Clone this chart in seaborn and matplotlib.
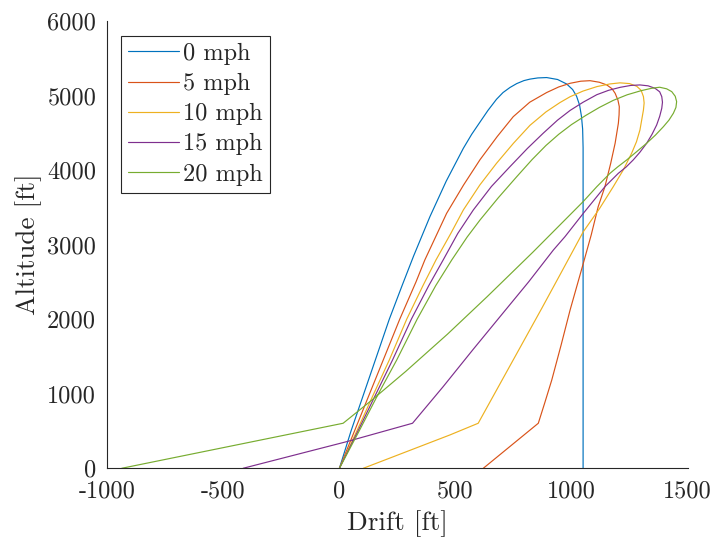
import matplotlib
matplotlib.use("Agg")
import matplotlib.pyplot as plt
import numpy as np
import pandas as pd
import seaborn as sns

# Wind cases
wind_labels = ["0 mph", "5 mph", "10 mph", "15 mph", "20 mph"]

# Flight paths (drift [ft], altitude [ft]) in flight order: ascent, drogue, main
drift_0 = [0, 50, 105, 160, 215, 270, 320, 390, 460, 534, 570, 606, 640, 677, 705, 735,
           764, 795, 821, 855, 893, 940, 979, 1005, 1022, 1035, 1043, 1048, 1050, 1050]
alt_0 = [0, 500, 1000, 1500, 2000, 2450, 2850, 3375, 3850, 4292, 4480, 4645, 4800, 4950,
         5040, 5108, 5160, 5200, 5220, 5236, 5241, 5215, 5155, 5080, 4990, 4870, 4720,
         4550, 4300, 0]

drift_5 = [0, 65, 130, 195, 260, 330, 368, 462, 535, 606, 680, 749, 820, 893, 945, 994,
           1040, 1080, 1120, 1152, 1175, 1188, 1200, 1206, 1205, 1202, 1188, 1169, 1144,
           1115, 1085, 1051, 994, 955, 915, 885, 857, 620]
alt_5 = [0, 500, 1000, 1500, 2000, 2500, 2794, 3420, 3800, 4140, 4450, 4716, 4910, 5040,
         5115, 5164, 5192, 5199, 5178, 5142, 5090, 5030, 4940, 4851, 4740, 4628, 4360,
         4091, 3777, 3509, 3130, 2750, 2123, 1650, 1184, 880, 604, 0]

drift_10 = [0, 75, 148, 215, 290, 360, 416, 480, 534, 605, 677, 750, 821, 890, 950, 994,
            1050, 1110, 1165, 1209, 1250, 1281, 1300, 1310, 1313, 1310, 1295, 1280, 1259,
            1223, 1180, 1120, 1051, 960, 872, 598, 476, 103]
alt_10 = [0, 500, 1000, 1453, 2000, 2450, 2794, 3150, 3465, 3800, 4091, 4360, 4600, 4780,
          4905, 4984, 5060, 5120, 5155, 5170, 5160, 5124, 5070, 4985, 4900, 4806, 4538,
          4380, 4225, 4001, 3777, 3480, 3174, 2650, 2146, 604, 447, 0]

drift_15 = [0, 80, 158, 229, 310, 385, 447, 510, 577, 655, 735, 810, 878, 940, 994, 1050,
            1109, 1160, 1210, 1255, 1295, 1330, 1360, 1380, 1389, 1392, 1389, 1380, 1367,
            1347, 1324, 1295, 1266, 1235, 1202, 1144, 1051, 972, 922, 816, 704, 575, 447,
            315, 31, -415]
alt_15 = [0, 500, 1000, 1453, 2000, 2450, 2794, 3150, 3465, 3780, 4046, 4290, 4494, 4670,
          4800, 4910, 5011, 5070, 5110, 5135, 5142, 5130, 5097, 5050, 4985, 4910, 4829,
          4720, 4605, 4480, 4360, 4240, 4136, 4040, 3957, 3777, 3420, 3107, 2928, 2503,
          2079, 1590, 1095, 604, 357, 0]

drift_20 = [0, 85, 168, 247, 335, 415, 484, 550, 606, 685, 764, 830, 890, 945, 1000, 1060,
            1120, 1180, 1240, 1300, 1345, 1380, 1410, 1432, 1447, 1453, 1450, 1439, 1420,
            1396, 1362, 1324, 1282, 1238, 1200, 1166, 1109, 1050, 834, 636, 466, 286, 134,
            16, -938]
alt_20 = [0, 500, 1000, 1453, 2000, 2450, 2794, 3100, 3331, 3630, 3911, 4140, 4330, 4480,
          4610, 4730, 4840, 4935, 5010, 5065, 5097, 5111, 5090, 5052, 4990, 4918, 4840,
          4762, 4670, 4582, 4470, 4360, 4250, 4136, 4045, 3957, 3777, 3576, 2900, 2300,
          1800, 1300, 900, 604, 0]

drifts = [drift_0, drift_5, drift_10, drift_15, drift_20]
alts = [alt_0, alt_5, alt_10, alt_15, alt_20]

# MATLAB default line colours
colors = ["#0072BD", "#D95319", "#EDB120", "#7E2F8E", "#77AC30"]

frames = []
for lab, d, a in zip(wind_labels, drifts, alts):
    frames.append(pd.DataFrame({"Drift": d, "Altitude": a, "Wind": lab}))
df = pd.concat(frames, ignore_index=True)

sns.set_theme(style="white")
plt.rcParams["font.family"] = ["cmr10", "DejaVu Serif"]
plt.rcParams["axes.unicode_minus"] = False
plt.rcParams["axes.formatter.use_mathtext"] = False

fig = plt.figure(figsize=(7.17, 5.39), dpi=100)
ax = fig.add_axes([0.1497, 0.1312, 0.8092, 0.8299])

sns.lineplot(data=df, x="Drift", y="Altitude", hue="Wind", hue_order=wind_labels,
             palette=colors, sort=False, estimator=None, units="Wind",
             linewidth=0.85, ax=ax, legend=False)

ax.set_xlim(-1000, 1500)
ax.set_ylim(0, 6000)
xt = [-1000, -500, 0, 500, 1000, 1500]
yt = [0, 1000, 2000, 3000, 4000, 5000, 6000]
ax.set_xticks(xt)
ax.set_yticks(yt)
ax.set_xticklabels([str(v) for v in xt])
ax.set_yticklabels([str(v) for v in yt])

spine_col = "#262626"
for s in ["top", "right"]:
    ax.spines[s].set_visible(False)
for s in ["left", "bottom"]:
    ax.spines[s].set_color(spine_col)
    ax.spines[s].set_linewidth(0.8)

ax.tick_params(axis="both", direction="in", length=5, width=0.7, color=spine_col,
               labelsize=17.5, labelcolor=spine_col)
ax.tick_params(axis="x", pad=9)
ax.tick_params(axis="y", pad=8)

ax.set_xlabel("Drift [ft]", fontsize=19.5, color=spine_col, labelpad=5)
ax.set_ylabel("Altitude [ft]", fontsize=19.5, color=spine_col, labelpad=4)

handles = [plt.Line2D([], [], color=c, lw=0.85) for c in colors]
leg = ax.legend(handles, wind_labels,
                loc="upper left", bbox_to_anchor=(0.0235, 0.9675), fontsize=17.5,
                frameon=True, fancybox=False, framealpha=1, edgecolor=spine_col,
                handlelength=2.1, handletextpad=0.15, labelspacing=0.33,
                borderpad=0.3, borderaxespad=0.0)
leg.get_frame().set_linewidth(0.8)

fig.savefig("out.png", dpi=100)
